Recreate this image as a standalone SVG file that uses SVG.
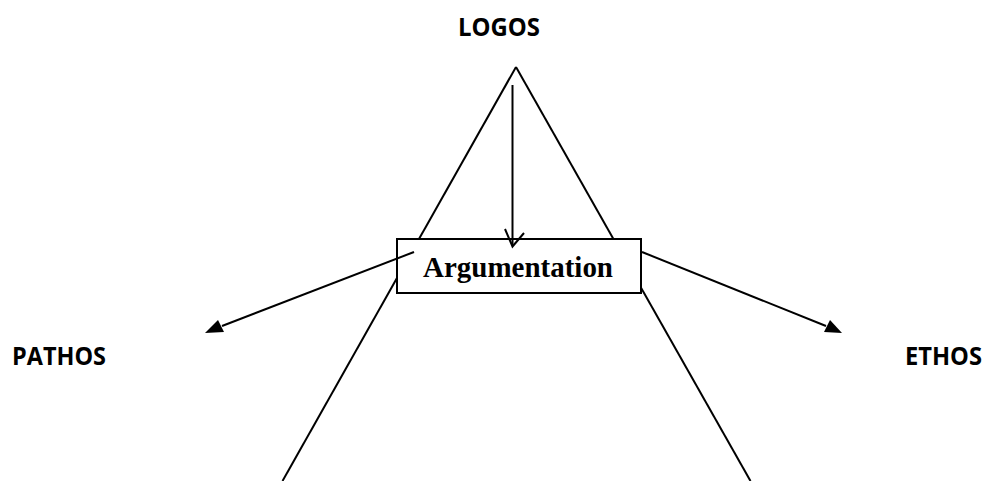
<svg xmlns="http://www.w3.org/2000/svg" width="985" height="481" viewBox="0 0 985 481">
<defs>
<style>
.ln{stroke:#000;stroke-width:2;fill:none}
.lbl{font-family:"Open Sans","Liberation Sans",sans-serif;font-weight:bold;font-size:25px;fill:#000}
.box{fill:#fff;stroke:#000;stroke-width:2}
.arg{font-family:"Liberation Serif","Times New Roman",serif;font-weight:bold;font-size:29px;fill:#000}
</style>
<marker id="fill" markerWidth="10" markerHeight="8" refX="9" refY="4" orient="auto" markerUnits="userSpaceOnUse" viewBox="0 0 10 8">
<path d="M0,0 L10,4 L0,8 z" fill="#000"/>
</marker>
</defs>
<rect width="985" height="481" fill="#fff"/>
<g id="connectors">
<line class="ln" x1="516" y1="67" x2="282.5" y2="481"/>
<line class="ln" x1="516" y1="67" x2="750.5" y2="481"/>
</g>
<g id="argumentation">
<rect class="box" x="397" y="239" width="244" height="54"/>
<text class="arg" x="518" y="277" text-anchor="middle" textLength="190" lengthAdjust="spacingAndGlyphs">Argumentation</text>
</g>
<g id="arrows">
<line class="ln" x1="512.5" y1="85" x2="512.5" y2="246"/>
<polyline class="ln" points="505,229 512.5,246.5 524,233"/>
<line class="ln" x1="414" y1="252" x2="222" y2="326" />
<path d="M205,333 L218,320 L224,332 z" fill="#000"/>
<line class="ln" x1="642" y1="252" x2="826" y2="326"/>
<path d="M842,333 L824,332 L830,320 z" fill="#000"/>
</g>
<g id="logos"><text class="lbl" x="499" y="36" text-anchor="middle" textLength="82" lengthAdjust="spacingAndGlyphs">LOGOS</text></g>
<g id="pathos"><text class="lbl" x="12" y="365" textLength="94" lengthAdjust="spacingAndGlyphs">PATHOS</text></g>
<g id="ethos"><text class="lbl" x="905" y="365" textLength="77" lengthAdjust="spacingAndGlyphs">ETHOS</text></g>
</svg>
